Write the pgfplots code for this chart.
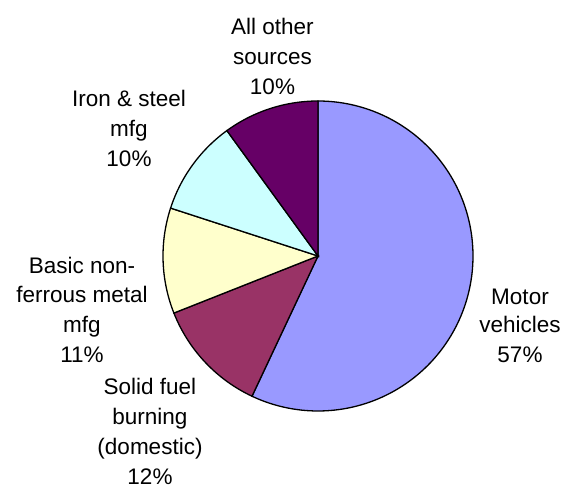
\documentclass[border=0pt]{standalone}
\usepackage{pgfplots}
\pgfplotsset{compat=1.18}
\usepackage{fontspec}
\setmainfont{Liberation Sans}
\definecolor{sA}{HTML}{9999FF}
\definecolor{sB}{HTML}{993366}
\definecolor{sC}{HTML}{FFFFCC}
\definecolor{sD}{HTML}{CCFFFF}
\definecolor{sE}{HTML}{660066}
% slice values (percent), clockwise from 12 o'clock
\def\vA{57}\def\vB{12}\def\vC{11}\def\vD{10}\def\vE{10}
\pgfmathsetmacro\aA{90}
\pgfmathsetmacro\aB{\aA-\vA*3.6}
\pgfmathsetmacro\aC{\aB-\vB*3.6}
\pgfmathsetmacro\aD{\aC-\vC*3.6}
\pgfmathsetmacro\aE{\aD-\vD*3.6}
\pgfmathsetmacro\aF{\aE-\vE*3.6}
\def\cx{318}\def\cy{230}\def\rr{155}
\newcommand{\lbl}[3]{\node[anchor=base,inner sep=0pt,font=\fontsize{22.5}{30}\selectfont] at (axis cs:#1,#2) {#3};}
\begin{document}
\begin{tikzpicture}
\begin{axis}[
  width=563pt, height=486pt, scale only axis,
  xmin=0, xmax=563, ymin=0, ymax=486,
  hide axis, clip=false,
]
\addplot[fill=sA, draw=black, line width=1.3pt, domain=\aB:\aA, samples=150, variable=\t]
  ({\cx+\rr*cos(\t)},{\cy+\rr*sin(\t)}) -- (axis cs:\cx,\cy) -- cycle;
\addplot[fill=sB, draw=black, line width=1.3pt, domain=\aC:\aB, samples=40, variable=\t]
  ({\cx+\rr*cos(\t)},{\cy+\rr*sin(\t)}) -- (axis cs:\cx,\cy) -- cycle;
\addplot[fill=sC, draw=black, line width=1.3pt, domain=\aD:\aC, samples=40, variable=\t]
  ({\cx+\rr*cos(\t)},{\cy+\rr*sin(\t)}) -- (axis cs:\cx,\cy) -- cycle;
\addplot[fill=sD, draw=black, line width=1.3pt, domain=\aE:\aD, samples=40, variable=\t]
  ({\cx+\rr*cos(\t)},{\cy+\rr*sin(\t)}) -- (axis cs:\cx,\cy) -- cycle;
\addplot[fill=sE, draw=black, line width=1.3pt, domain=\aF:\aE, samples=40, variable=\t]
  ({\cx+\rr*cos(\t)},{\cy+\rr*sin(\t)}) -- (axis cs:\cx,\cy) -- cycle;
% labels (baselines)
\lbl{272.5}{451}{All other}
\lbl{272.5}{421}{sources}
\lbl{272.5}{391}{10\%}
\lbl{129}{379}{Iron \& steel}
\lbl{129}{349}{mfg}
\lbl{129}{319}{10\%}
\lbl{82}{212}{Basic non-}
\lbl{82}{183}{ferrous metal}
\lbl{82}{153}{mfg}
\lbl{82}{123}{11\%}
\lbl{520}{181}{Motor}
\lbl{520}{153}{vehicles}
\lbl{520}{123}{57\%}
\lbl{150}{91}{Solid fuel}
\lbl{150}{61}{burning}
\lbl{150}{31}{(domestic)}
\lbl{150}{1}{12\%}
\end{axis}
\pgfresetboundingbox
\path (0,0) rectangle (563pt,486pt);
\end{tikzpicture}
\end{document}
